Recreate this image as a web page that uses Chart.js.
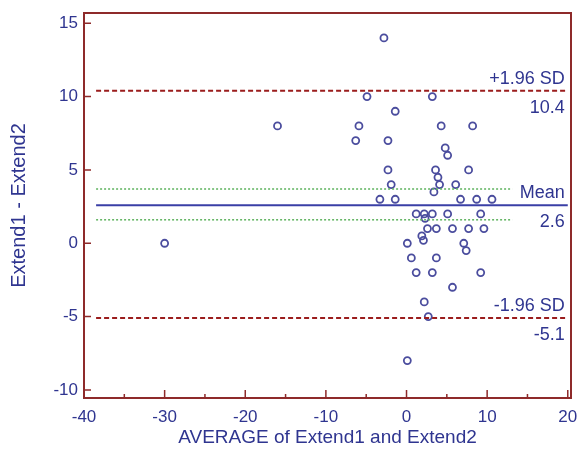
<!DOCTYPE html>
<html>
<head>
<meta charset="utf-8">
<script src="https://cdn.jsdelivr.net/npm/chart.js@4.4.1/dist/chart.umd.min.js"></script>
<style>
  html, body { margin: 0; padding: 0; background: #fff; }
  #wrap { width: 580px; height: 454px; position: relative; }
</style>
</head>
<body>
<div id="wrap"><canvas id="baChart"></canvas></div>
<script>
// Bland-Altman: average vs difference
const avgValues = [
  -30, -16, -2.8, -4.9, 3.2, -1.4, -5.9, 4.3, 8.2, -6.3,
  -2.3, 4.8, 5.1, -2.3, 3.6, 7.7, 3.9, -1.9, 4.1, 6.1,
  3.4, -3.3, -1.4, 6.7, 8.7, 10.6, 1.2, 2.2, 3.2, 2.3,
  5.1, 9.2, 2.6, 3.7, 5.7, 7.7, 9.6, 1.9, 2.1, 0.1,
  7.1, 7.4, 0.6, 3.7, 1.2, 3.2, 9.2, 5.7, 2.2, 2.7, 0.1
];
const diffValues = [
  0, 8, 14, 10, 10, 9, 8, 8, 8, 7,
  7, 6.5, 6, 5, 5, 5, 4.5, 4, 4, 4,
  3.5, 3, 3, 3, 3, 3, 2, 2, 2, 1.7,
  2, 2, 1, 1, 1, 1, 1, 0.5, 0.2, 0,
  0, -0.5, -1, -1, -2, -2, -2, -3, -4, -5, -8
];

const limitValues = [10.4, 2.6, -5.1];          // +1.96 SD, mean, -1.96 SD
const limitNames = ['+1.96 SD', 'Mean', '-1.96 SD'];
const limitLabels = ['10.4', '2.6', '-5.1'];
const ciValues = [3.7, 1.6];                    // CI of mean
const lineFrom = -38.5, lineTo = 20, ciTo = 13.1;

const xTicks = [-40, -30, -20, -10, 0, 10, 20];
const yTicks = [-10, -5, 0, 5, 10, 15];

const navy = '#2f3590';
const frameRed = '#8e2a2a';
const font = "'Liberation Sans', Arial, sans-serif";

function hLine(v, x2) {
  return [{ x: lineFrom, y: v }, { x: x2, y: v }];
}

const framePlugin = {
  id: 'frame',
  afterDraw(chart) {
    const { ctx, chartArea: a, scales } = chart;
    const xs = scales.x, ys = scales.y;
    ctx.save();
    ctx.strokeStyle = frameRed;
    ctx.lineWidth = 2;
    ctx.strokeRect(a.left, a.top, a.right - a.left, a.bottom - a.top);

    // inward ticks
    ctx.lineWidth = 1.5;
    ctx.beginPath();
    yTicks.forEach(v => {
      const y = ys.getPixelForValue(v);
      ctx.moveTo(a.left, y); ctx.lineTo(a.left + 7, y);
    });
    xTicks.forEach((v, i) => {
      const x = xs.getPixelForValue(v);
      ctx.moveTo(x, a.bottom); ctx.lineTo(x, a.bottom - 8);
      if (i < xTicks.length - 1) {
        const m = xs.getPixelForValue((v + xTicks[i + 1]) / 2);
        ctx.moveTo(m, a.bottom); ctx.lineTo(m, a.bottom - 4);
      }
    });
    ctx.stroke();

    // limit labels
    ctx.fillStyle = navy;
    ctx.font = '18px ' + font;
    ctx.textAlign = 'right';
    const tx = xs.getPixelForValue(lineTo) - 3;
    limitValues.forEach((v, i) => {
      const y = ys.getPixelForValue(v);
      ctx.textBaseline = 'bottom';
      ctx.fillText(limitNames[i], tx, y - 3);
      ctx.textBaseline = 'top';
      ctx.fillText(limitLabels[i], tx, y + 8);
    });
    ctx.restore();
  }
};

new Chart(document.getElementById('baChart').getContext('2d'), {
  type: 'scatter',
  data: {
    datasets: [
      {
        data: hLine(limitValues[0], lineTo),
        type: 'line', borderColor: '#9b1d1d', borderWidth: 2,
        borderDash: [5, 3], pointRadius: 0, fill: false
      },
      {
        data: hLine(limitValues[2], lineTo),
        type: 'line', borderColor: '#9b1d1d', borderWidth: 2,
        borderDash: [5, 3], pointRadius: 0, fill: false
      },
      {
        data: hLine(ciValues[0], ciTo),
        type: 'line', borderColor: '#5fb35f', borderWidth: 1.5,
        borderDash: [2, 2], pointRadius: 0, fill: false
      },
      {
        data: hLine(ciValues[1], ciTo),
        type: 'line', borderColor: '#5fb35f', borderWidth: 1.5,
        borderDash: [2, 2], pointRadius: 0, fill: false
      },
      {
        data: hLine(limitValues[1], lineTo),
        type: 'line', borderColor: '#3a3fa6', borderWidth: 2,
        pointRadius: 0, fill: false
      },
      {
        data: avgValues.map((x, i) => ({ x: x, y: diffValues[i] })),
        pointRadius: 3.5,
        pointBorderWidth: 1.8,
        borderColor: '#4b4d9e',
        backgroundColor: 'rgba(0,0,0,0)'
      }
    ]
  },
  options: {
    responsive: true,
    maintainAspectRatio: false,
    animation: false,
    layout: { padding: { top: 13, right: 9, left: 0, bottom: 0 } },
    plugins: {
      legend: { display: false },
      tooltip: { enabled: false }
    },
    scales: {
      x: {
        type: 'linear',
        min: -40, max: 20.4,
        afterFit: s => { s.height = 56; s.paddingLeft = 0; s.paddingRight = 0; },
        grid: { display: false, drawTicks: false },
        border: { display: false },
        afterBuildTicks: s => { s.ticks = xTicks.map(v => ({ value: v })); },
        ticks: { color: navy, font: { family: font, size: 17 }, padding: 9, maxRotation: 0 },
        title: {
          display: true, text: 'AVERAGE of Extend1 and Extend2',
          color: navy, font: { family: font, size: 19 }, padding: { top: 0, bottom: 5 }
        }
      },
      y: {
        type: 'linear',
        min: -10.55, max: 15.7,
        afterFit: s => { s.width = 84; s.paddingTop = 0; s.paddingBottom = 0; },
        grid: { display: false, drawTicks: false },
        border: { display: false },
        afterBuildTicks: s => { s.ticks = yTicks.map(v => ({ value: v })); },
        ticks: { color: navy, font: { family: font, size: 17 }, padding: 6 },
        title: {
          display: true, text: 'Extend1 - Extend2',
          color: navy, font: { family: font, size: 20 }, padding: { top: 7, bottom: 0 }
        }
      }
    }
  },
  plugins: [framePlugin]
});
</script>
</body>
</html>
